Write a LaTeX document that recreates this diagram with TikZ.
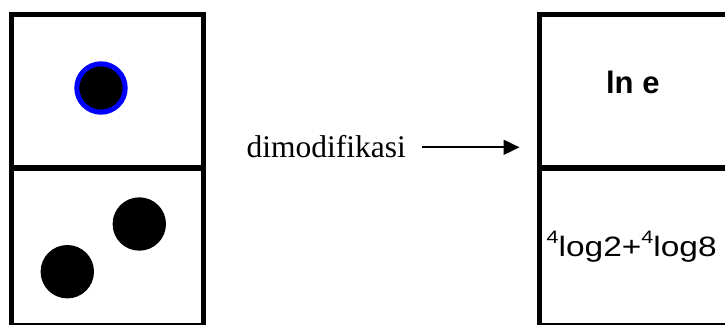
\documentclass[tikz,border=0pt]{standalone}
\usepackage{fontspec}
\usepackage{graphicx}
\setmainfont{Liberation Serif}
\newfontfamily\headfont{Liberation Sans}
\usetikzlibrary{arrows.meta,calc}
\begin{document}
\begin{tikzpicture}[x=1pt,y=-1pt,
  half/.style={draw=black, line width=5.5pt, fill=white, rectangle,
    inner sep=0pt, outer sep=0pt, anchor=north west},
  pip/.style={circle, fill=black, inner sep=0pt, outer sep=0pt, minimum size=53.4pt},
  ringpip/.style={circle, fill=black, draw=blue, line width=5pt,
    inner sep=0pt, outer sep=0pt, minimum size=48.4pt},
  plain/.style={inner sep=0pt, outer sep=0pt, anchor=base west},
  arr/.style={line width=2pt, -{Triangle[length=16pt,width=15pt]}}]
\useasboundingbox (0,0) rectangle (725,324);
\clip (0,0) rectangle (725,324);

% left domino
\node[half, minimum width=192pt, minimum height=153.5pt] (lt) at (11.5,14.5) {};
\node[half, minimum width=192pt, minimum height=158pt] (lb) at (11.5,168) {};
\node[ringpip] (one) at (101,88) {};
\node[pip] (twoa) at (139.3,224) {};
\node[pip] (twob) at (67.3,271.7) {};

% right domino
\node[half, minimum width=200.5pt, minimum height=153.5pt] (rt) at (539.5,14.5) {};
\node[half, minimum width=200.5pt, minimum height=158pt] (rb) at (539.5,168) {};
\node[inner sep=0pt, anchor=base] (top) at (632.8,93.3)
  {\headfont\bfseries\fontsize{31}{36}\selectfont ln e};
\node[plain] (sum) at (546.7,256.7)
  {\resizebox{170pt}{\height}{\headfont\fontsize{28}{32}\selectfont
   \raisebox{13.4pt}{\fontsize{18}{20}\selectfont 4}log2+\raisebox{13.4pt}{\fontsize{18}{20}\selectfont 4}log8}};

% label and arrow
\node[plain] (lbl) at (246.7,157.3) {\fontsize{31.5}{36}\selectfont dimodifikasi};
\coordinate (tip) at (519.5,147.3);
\draw[arr] ($(lbl.east |- tip)+(16,0)$) -- (tip);
\end{tikzpicture}
\end{document}
